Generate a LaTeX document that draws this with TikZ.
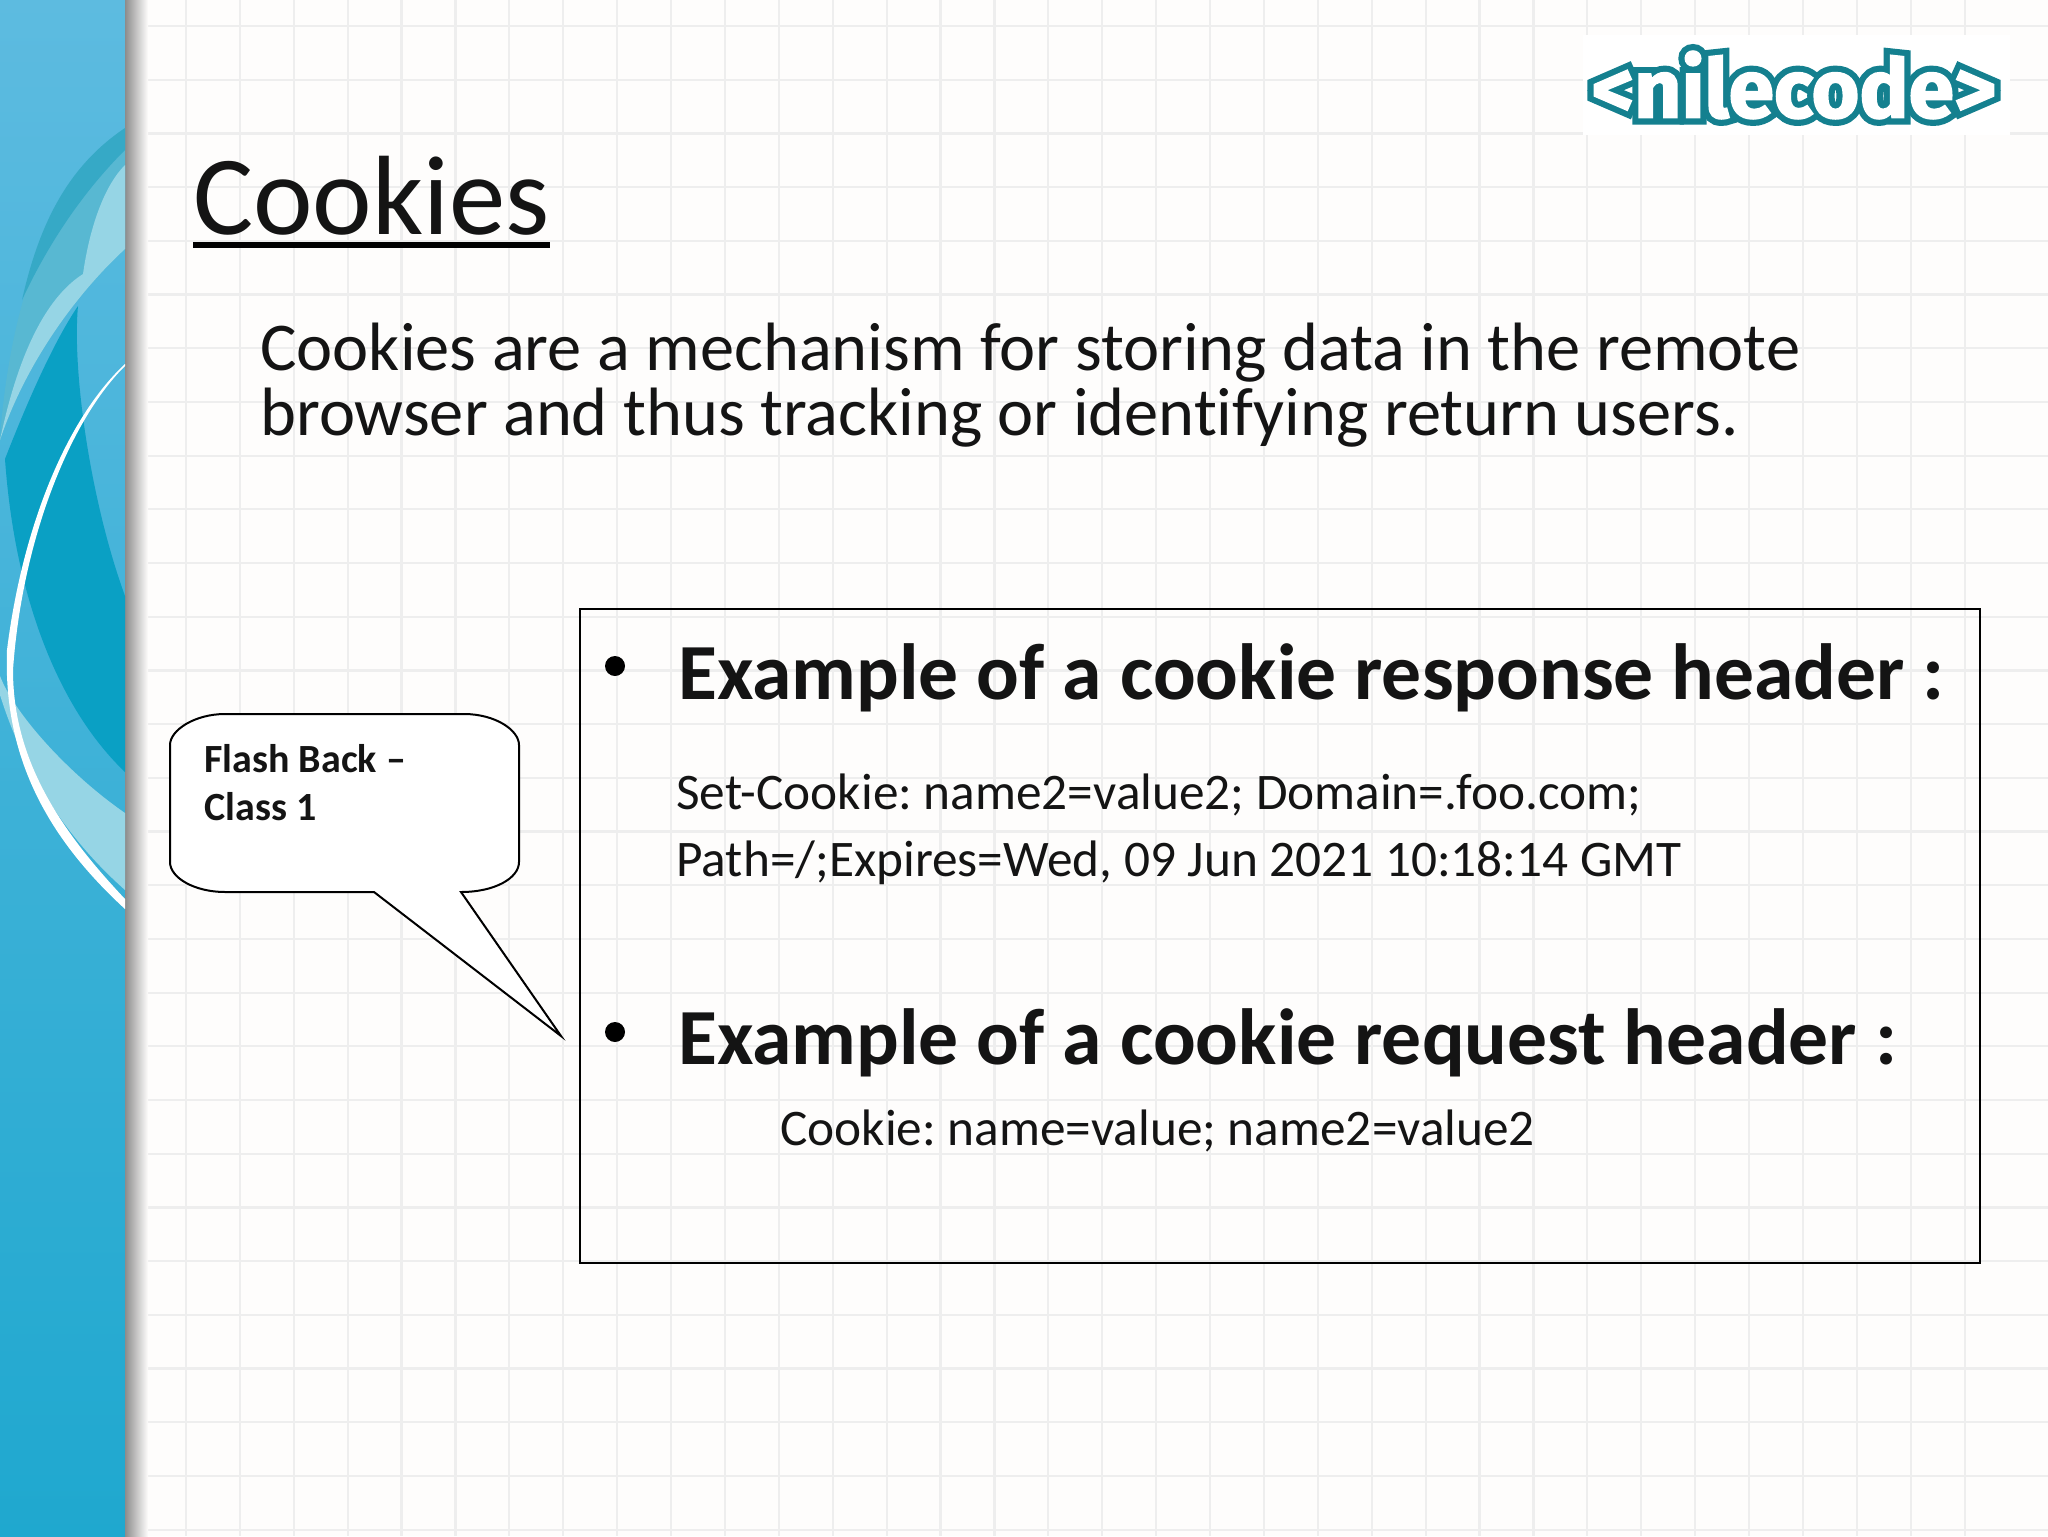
\documentclass[tikz,border=0pt]{standalone}
\usepackage{fontspec}
\setmainfont[Ligatures=NoCommon]{Carlito}
\newfontfamily\logofont[BoldFeatures={FakeBold=2}]{Fira Sans}
\newfontfamily\logoedge[BoldFeatures={FakeBold=17}]{Fira Sans}
\definecolor{pagebg}{HTML}{FEFDFC}
\definecolor{gridc}{HTML}{EEEEEE}
\definecolor{barlight}{HTML}{5DBBE0}
\definecolor{barlow}{HTML}{1FA8CF}
\definecolor{bardark}{HTML}{0AA0C4}
\definecolor{bandmid}{HTML}{36A9C6}
\definecolor{bandbase}{HTML}{58B8D2}
\definecolor{bandlight}{HTML}{96D5E5}
\definecolor{logoc}{HTML}{14808F}
\tikzstyle{gridline}=[gridc,line width=1.1pt]
\tikzstyle{textl}=[anchor=base west,inner sep=0pt,align=left,text=black!92]
\tikzstyle{titlet}=[textl,font=\fontsize{56.4}{60}\selectfont]
\tikzstyle{introt}=[textl,font=\fontsize{34.2}{36}\selectfont]
\tikzstyle{headt}=[textl,font=\bfseries\fontsize{39.8}{40}\selectfont]
\tikzstyle{codet}=[textl,font=\fontsize{25.65}{30}\selectfont]
\tikzstyle{notet}=[textl,font=\bfseries\fontsize{20}{22}\selectfont]
\tikzstyle{bullet}=[circle,fill=black,minimum size=10pt,inner sep=0pt]
\tikzstyle{logot}=[inner sep=0pt,white,font=\logofont\bfseries\fontsize{41}{41}\selectfont]
\tikzstyle{logoe}=[inner sep=0pt,logoc,font=\logoedge\bfseries\fontsize{41}{41}\selectfont]
\begin{document}
\frenchspacing
\begin{tikzpicture}[x=0.5pt,y=-0.5pt]
    \useasboundingbox (0,0) rectangle (2048,1536);
    \fill[pagebg] (0,0) rectangle (2048,1536);
    % grid
    \foreach \gx in {0,...,34}
        \draw[gridline] (132+53.9*\gx,0) -- (132+53.9*\gx,1536);
    \foreach \gy in {0,...,28}
        \draw[gridline] (125,26+53.7*\gy) -- (2048,26+53.7*\gy);
    % side bar
    \shade[top color=barlight,bottom color=barlow] (0,0) rectangle (125,1536);
    \shade[left color=black!45,right color=pagebg] (125,0) rectangle (148,1536);
    \fill[bardark] (5,459) .. controls (30,395) and (55,340) .. (78,306)
        .. controls (72,370) and (90,500) .. (125,596) -- (125,772)
        .. controls (60,710) and (15,600) .. (5,459);
    \fill[bandbase] (125,128) .. controls (60,175) and (10,290) .. (0,440)
        .. controls (25,365) and (75,295) .. (125,249) -- cycle;
    \fill[bandmid] (125,128) .. controls (70,165) and (40,220) .. (22,300)
        .. controls (50,240) and (85,190) .. (125,150) -- cycle;
    \fill[bandlight] (125,165) .. controls (105,185) and (90,225) .. (83,274)
        .. controls (50,295) and (20,345) .. (0,440)
        .. controls (25,365) and (75,295) .. (125,249) -- cycle;
    \fill[bandlight] (0,676) .. controls (15,715) and (70,775) .. (125,813)
        -- (125,890) .. controls (80,850) and (30,790) .. (0,695) -- cycle;
    \fill[white] (125,364) .. controls (65,420) and (22,530) .. (7,650)
        .. controls (3,760) and (50,840) .. (125,909) -- (125,899)
        .. controls (60,830) and (13,760) .. (13,670)
        .. controls (22,540) and (70,420) .. (125,366) -- cycle;
    % logo
    \fill[white] (1583,35) rectangle (2010,135);
    \node[logoe] (logoback) at (1794,85) {<nilecode>};
    \node[logot] (logo) at (1794,85) {<nilecode>};
    % texts
    \node[titlet] (title) at (193,234) {Cookies};
    \draw[line width=3pt] ([yshift=-5.5pt]title.base west) -- ([yshift=-5.5pt]title.base east);
    \node[introt] (intro1) at (260,370) {Cookies are a mechanism for storing data in the remote};
    \node[introt] (intro2) at (260,435) {browser and thus tracking or identifying return users.};
    % examples box
    \node[draw=black,line width=1pt,minimum width=700pt,minimum height=327pt,inner sep=0pt,anchor=north west] (box) at (579,608) {};
    \node[bullet] (b1) at (615,666) {};
    \node[headt] (head1) at (678,699) {Example of a cookie response header :};
    \node[codet] (set1) at (676,809) {Set-Cookie: name2=value2; Domain=.foo.com;};
    \node[codet] (set2) at (676,876) {Path=/;Expires=Wed, 09 Jun 2021 10:18:14 GMT};
    \node[bullet] (b2) at (615,1032) {};
    \node[headt] (head2) at (678,1064) {Example of a cookie request header :};
    \node[codet] (req1) at (780,1145) {Cookie: name=value; name2=value2};
    % call out
    \draw[black,fill=white,line width=1pt] (225,714) -- (464,714)
        .. controls (495,714) and (519,730) .. (519,745) -- (519,862)
        .. controls (519,878) and (495,892) .. (461,892)
        -- (561,1036) -- (374,892) -- (225,892)
        .. controls (195,892) and (170,878) .. (170,862) -- (170,745)
        .. controls (170,730) and (195,714) .. (225,714) -- cycle;
    \node[notet] (note1) at (204,772) {Flash Back –};
    \node[notet] (note2) at (204,820) {Class 1};
\end{tikzpicture}
\end{document}
